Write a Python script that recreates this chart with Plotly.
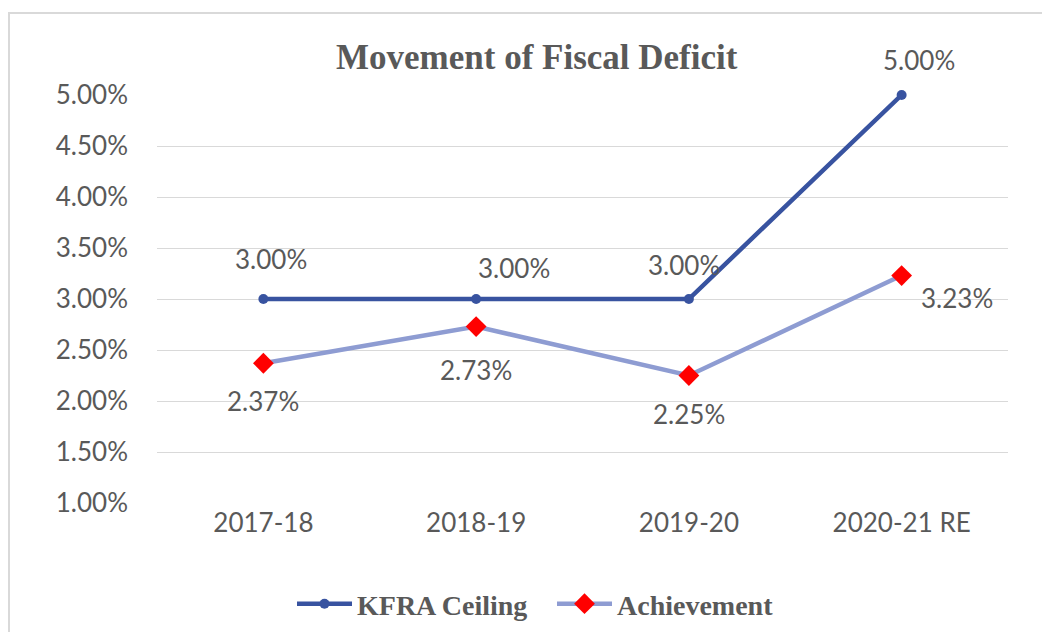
import plotly.graph_objects as go

# Fiscal deficit as a share of GSDP
years = ["2017-18", "2018-19", "2019-20", "2020-21 RE"]
kfra_ceiling = [0.03, 0.03, 0.03, 0.05]
achievement = [0.0237, 0.0273, 0.0225, 0.0323]

# label offsets (pixels) for each point's value label
kfra_label_offsets = [(8, -40), (38, -31), (-5, -34), (17, -35)]
ach_label_offsets = [(0, 38), (0, 43), (0, 38), (55, 22)]

grey = "#595959"
sans = "Lato, 'Open Sans', sans-serif"
serif = "'Liberation Serif', 'Times New Roman', serif"
label_size = 26

fig = go.Figure()
fig.add_trace(go.Scatter(
    x=years, y=kfra_ceiling, name="KFRA Ceiling", mode="lines+markers",
    line=dict(color="#3853A0", width=4.5),
    marker=dict(symbol="circle", size=10, color="#3853A0"),
    cliponaxis=False,
))
fig.add_trace(go.Scatter(
    x=years, y=achievement, name="Achievement", mode="lines+markers",
    line=dict(color="#8E9CD2", width=4.5),
    marker=dict(symbol="diamond", size=16, color="#FF0000"),
    cliponaxis=False,
))

annotations = []
for x, y, (dx, dy) in zip(years, kfra_ceiling, kfra_label_offsets):
    annotations.append(dict(x=x, y=y, text=f"{y*100:.2f}%", showarrow=False,
                            xshift=dx, yshift=-dy,
                            font=dict(family=sans, size=label_size, color=grey)))
for x, y, (dx, dy) in zip(years, achievement, ach_label_offsets):
    annotations.append(dict(x=x, y=y, text=f"{y*100:.2f}%", showarrow=False,
                            xshift=dx, yshift=-dy,
                            font=dict(family=sans, size=label_size, color=grey)))

annotations.append(dict(xref="paper", yref="paper", x=0.446, y=(503 - 57) / 408,
                        yanchor="middle", xanchor="center",
                        text="<b>Movement of Fiscal Deficit</b>", showarrow=False,
                        font=dict(family=serif, size=35, color=grey)))

fig.update_layout(
    width=1042, height=632,
    margin=dict(l=157, r=34, t=95, b=129),
    paper_bgcolor="white", plot_bgcolor="white",
    showlegend=True,
    legend=dict(orientation="h", x=(292 - 157) / 851, xanchor="left",
                yref="container", y=(632 - 604) / 632, yanchor="middle",
                font=dict(family=serif, size=28, color=grey, weight="bold"),
                itemwidth=55, entrywidth=190, tracegroupgap=0),
    annotations=annotations,
    shapes=[dict(type="rect", xref="paper", yref="paper",
                 x0=(9 - 157) / 851, x1=1.1, y0=-0.5, y1=(503 - 13) / 408,
                 line=dict(color="#D9D9D9", width=2), fillcolor="rgba(0,0,0,0)",
                 layer="below")],
)
fig.update_xaxes(type="category", range=[-0.5, 3.5], showgrid=False, zeroline=False,
                 showline=False, ticks="", automargin=False,
                 tickfont=dict(family=sans, size=label_size, color=grey), ticklabelstandoff=2)
fig.update_yaxes(range=[0.01, 0.05], dtick=0.005, tickformat=".2%",
                 showgrid=True, gridcolor="#D9D9D9", gridwidth=1, zeroline=False,
                 showline=False, ticks="", automargin=False,
                 tickfont=dict(family=sans, size=label_size, color=grey), ticklabelstandoff=28)

fig.write_html("out.html")
